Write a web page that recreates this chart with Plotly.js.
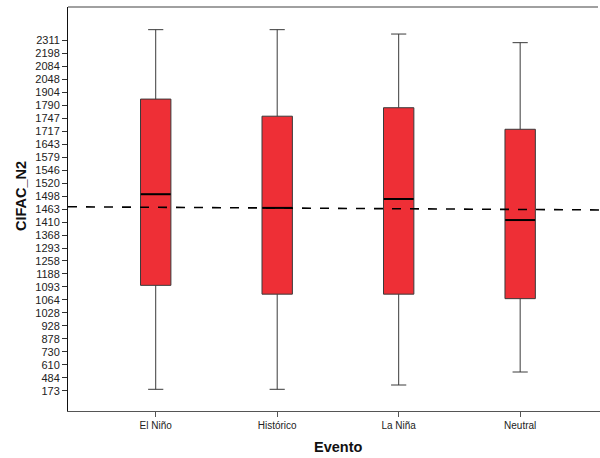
<!DOCTYPE html>
<html><head><meta charset="utf-8">
<script src="https://cdn.plot.ly/plotly-3.0.1.min.js"></script>
<style>html,body{margin:0;background:#fff;overflow:hidden;width:600px;height:458px;position:relative}#c{width:610px;height:458px}
#topframe{position:absolute;left:68px;top:6px;width:530px;height:0;border-top:2px solid #a0a0a0;pointer-events:none}</style>
</head><body><div id="c"></div><div id="topframe"></div>
<script>
// Categories and box statistics (CIFAC_N2 units)
const categories = ["El Niño", "Histórico", "La Niña", "Neutral"];
const lowerWhisker = [213, 213, 316, 542];
const q1Values     = [1105, 1077, 1077, 1067];
const medianValues = [1501, 1466, 1490, 1418];
const q3Values     = [1842, 1753, 1781, 1721];
const upperWhisker = [2401, 2401, 2363, 2288];
// Reference (dashed) line: value at left and right ends
const refLineValues = [1469, 1459];
// Y tick labels (evenly spaced on the axis)
const yTickLabels = [173, 484, 610, 730, 878, 928, 1028, 1064, 1093, 1188, 1258, 1293, 1368, 1410,
  1463, 1498, 1520, 1546, 1579, 1643, 1717, 1747, 1790, 1904, 2048, 2084, 2198, 2311];

// Piecewise-linear mapping of a value onto the evenly spaced tick scale
function toPos(v) {
  const t = yTickLabels, n = t.length;
  if (v <= t[0]) return (v - t[0]) / (t[1] - t[0]);
  if (v >= t[n - 1]) return (n - 1) + (v - t[n - 1]) / (t[n - 1] - t[n - 2]);
  for (let i = 0; i < n - 1; i++) {
    if (v >= t[i] && v <= t[i + 1]) return i + (v - t[i]) / (t[i + 1] - t[i]);
  }
}

const catIdx = categories.map((c, i) => i);
const xr = [-0.722, 3.723];

const traces = [{
  type: 'box',
  x: catIdx,
  q1: q1Values.map(toPos),
  median: medianValues.map(toPos),
  q3: q3Values.map(toPos),
  lowerfence: lowerWhisker.map(toPos),
  upperfence: upperWhisker.map(toPos),
  width: 0.25,
  whiskerwidth: 0.5,
  boxpoints: false,
  fillcolor: '#EE2F36',
  line: {color: '#3a3a3a', width: 1},
  showlegend: false,
  hoverinfo: 'skip'
}];
// Thicker black median lines
catIdx.forEach(i => {
  traces.push({
    type: 'scatter', mode: 'lines',
    x: [i - 0.123, i + 0.123],
    y: [toPos(medianValues[i]), toPos(medianValues[i])],
    line: {color: '#000', width: 2},
    showlegend: false, hoverinfo: 'skip'
  });
});
// Dashed reference line
traces.push({
  type: 'scatter', mode: 'lines',
  x: xr,
  y: refLineValues.map(toPos),
  line: {color: '#000', width: 1.6, dash: 'dash'},
  showlegend: false, hoverinfo: 'skip'
});

const titleFont = {size: 14.5, color: '#111', family: 'Liberation Sans, Arial, sans-serif', weight: 'bold'};
const layout = {
  width: 610, height: 458,
  margin: {l: 68, r: 2, t: 7, b: 47},
  paper_bgcolor: '#fff', plot_bgcolor: '#fff',
  font: {family: 'Liberation Sans, Arial, sans-serif', color: '#222', size: 10},
  xaxis: {
    range: xr,
    tickmode: 'array', tickvals: catIdx, ticktext: categories,
    showgrid: false, zeroline: false,
    showline: true, linecolor: '#555', linewidth: 1,
    ticks: 'outside', ticklen: 5, tickcolor: '#555',
    tickfont: {size: 10, color: '#222'}
  },
  yaxis: {
    range: [-1.54, 29.54],
    tickmode: 'array',
    tickvals: yTickLabels.map((v, i) => i),
    ticktext: yTickLabels.map(String),
    showgrid: false, zeroline: false,
    showline: true, linecolor: '#111', linewidth: 1,
    ticks: 'outside', ticklen: 5, tickcolor: '#333',
    tickfont: {size: 11, color: '#222'}
  },
  annotations: [
    {text: 'Evento', xref: 'paper', yref: 'paper', x: 0.5, y: -0.089,
     xanchor: 'center', yanchor: 'middle', showarrow: false, font: titleFont},
    {text: 'CIFAC_N2', xref: 'paper', yref: 'paper', x: -0.087, y: 0.532, textangle: -90,
     xanchor: 'center', yanchor: 'middle', showarrow: false, font: titleFont}
  ]
};

Plotly.newPlot('c', traces, layout, {staticPlot: true});
</script></body></html>
